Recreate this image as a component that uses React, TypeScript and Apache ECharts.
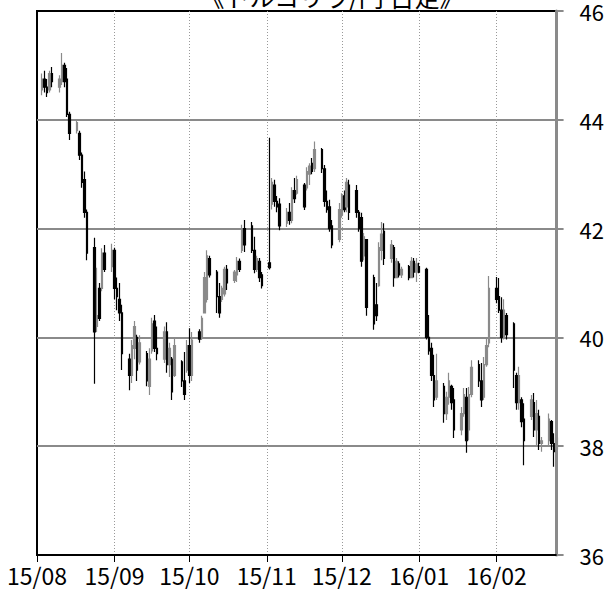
import React, { useEffect, useRef } from "react";
import * as echarts from "echarts";

// [open, close, low, high] per weekday
const AUG: number[][] = [
  [44.55, 44.75, 44.45, 44.85], [44.75, 44.6, 44.5, 44.9], [44.6, 44.5, 44.42, 44.75], [44.55, 44.85, 44.5, 44.9], [44.85, 44.7, 44.6, 44.97],
  [44.6, 44.75, 44.5, 44.82], [44.7, 45.0, 44.64, 45.23], [45.0, 44.7, 44.6, 45.05], [44.75, 44.1, 44.05, 44.95], [44.1, 43.75, 43.63, 44.15],
  [43.8, 43.95, 43.75, 44.0], [43.75, 43.35, 43.26, 43.8], [43.35, 42.85, 42.75, 43.4], [42.9, 42.3, 42.2, 43.05], [42.3, 41.55, 41.42, 42.35],
  [41.65, 40.1, 39.15, 41.83], [40.2, 40.4, 40.1, 41.28], [40.9, 40.35, 40.3, 41.0], [40.9, 41.55, 40.85, 41.64], [41.55, 41.25, 41.2, 41.7],
  [41.3, 41.6, 41.2, 41.72],
];
const SEP: number[][] = [
  [41.6, 40.9, 40.7, 41.65], [40.9, 40.75, 40.5, 41.1], [40.7, 40.45, 40.3, 41.0], [40.45, 39.7, 39.4, 40.6],
  [39.6, 39.3, 39.03, 39.7], [39.3, 39.85, 39.16, 39.95], [39.8, 40.2, 39.6, 40.3], [40.0, 39.4, 39.2, 40.05], [39.55, 39.9, 39.5, 40.04],
  [39.7, 39.2, 39.1, 39.75], [39.1, 39.6, 38.94, 39.8], [39.75, 40.25, 39.7, 40.36], [40.3, 39.8, 39.73, 40.41], [39.8, 39.7, 39.58, 40.2],
  [39.6, 40.1, 39.53, 40.2], [40.1, 39.5, 39.35, 40.28], [39.5, 39.8, 39.27, 39.9], [39.6, 39.0, 38.85, 39.64], [39.3, 39.85, 39.27, 40.0],
  [39.55, 39.2, 39.09, 39.58], [39.2, 38.95, 38.85, 39.73], [39.4, 39.85, 39.35, 39.95],
];
const OCT: number[][] = [
  [39.85, 39.3, 39.16, 40.17], [39.3, 39.95, 39.2, 40.1],
  [40.1, 39.97, 39.9, 40.15], [40.0, 40.35, 39.95, 40.4], [40.45, 41.1, 40.45, 41.2], [40.7, 41.5, 40.64, 41.6], [41.45, 41.15, 41.1, 41.5],
  [41.2, 40.75, 40.45, 41.24], [40.75, 40.45, 40.36, 41.0], [40.7, 40.9, 40.65, 40.95], [40.8, 41.25, 40.75, 41.3], [41.25, 41.0, 40.87, 41.33],
  [41.05, 41.2, 41.0, 41.24], [41.15, 41.4, 41.02, 41.48], [41.4, 41.25, 41.2, 41.45], [41.6, 42.0, 41.55, 42.07], [42.0, 41.7, 41.57, 42.16],
  [42.05, 41.6, 41.55, 42.12], [41.6, 41.25, 41.18, 41.85], [41.25, 41.45, 41.2, 41.5], [41.4, 41.1, 41.02, 41.46], [41.15, 40.95, 40.9, 41.2],
];
const NOV: number[][] = [
  [41.37, 41.28, 41.25, 43.67], [42.45, 42.85, 42.35, 42.93], [42.8, 42.5, 42.4, 42.9], [42.5, 42.4, 42.3, 42.6], [42.45, 42.05, 41.97, 42.56],
  [42.1, 42.3, 42.03, 42.38], [42.3, 42.15, 42.07, 42.47], [42.15, 42.7, 42.1, 42.76], [42.7, 42.55, 42.47, 42.93], [42.65, 42.9, 42.62, 42.97],
  [42.8, 42.4, 42.34, 42.84], [42.75, 43.05, 42.7, 43.13], [43.0, 43.15, 42.8, 43.2], [43.2, 43.05, 43.0, 43.3], [43.1, 43.45, 43.04, 43.6],
  [43.45, 43.1, 43.02, 43.48], [43.1, 42.5, 42.4, 43.17], [42.5, 42.35, 42.29, 42.7], [42.4, 42.0, 41.94, 42.53], [42.05, 41.7, 41.64, 42.16],
  [41.8, 42.35, 41.75, 42.47],
];
const DEC: number[][] = [
  [42.25, 42.6, 42.2, 42.65], [42.6, 42.35, 42.3, 42.7], [42.4, 42.85, 42.3, 42.93], [42.8, 42.3, 42.16, 42.9],
  [42.7, 42.3, 42.2, 42.8], [42.3, 42.0, 41.94, 42.34], [42.2, 41.4, 41.3, 42.29], [41.5, 41.85, 41.42, 41.92], [41.8, 40.55, 40.4, 41.8],
  [41.1, 40.25, 40.14, 41.15], [40.6, 40.4, 40.3, 41.0], [40.95, 41.65, 40.93, 41.75], [41.6, 41.9, 41.42, 42.12], [41.95, 41.45, 41.33, 42.1],
  [41.45, 41.7, 41.37, 41.79], [41.65, 41.1, 40.93, 41.7], [41.1, 41.4, 41.09, 41.46], [41.35, 41.15, 41.1, 41.4], [41.15, 41.25, 41.09, 41.3],
  [41.3, 41.1, 41.05, 41.33], [41.1, 41.4, 41.09, 41.48], [41.4, 41.2, 41.1, 41.46], [41.2, 41.35, 41.02, 41.46],
];
const JAN: number[][] = [
  [41.3, 41.2, 41.18, 41.37],
  [41.25, 40.0, 39.96, 41.28], [40.0, 39.75, 39.68, 40.41], [39.8, 39.3, 39.2, 39.9], [39.3, 38.85, 38.72, 39.68], [38.9, 39.2, 38.85, 39.7],
  [39.1, 38.6, 38.43, 39.16], [38.6, 38.9, 38.48, 39.0], [38.9, 39.2, 38.76, 39.35], [39.1, 38.8, 38.67, 39.13], [38.85, 38.3, 38.15, 39.07],
  [38.3, 38.6, 38.2, 38.72], [38.6, 38.95, 38.54, 39.07], [38.9, 38.1, 37.88, 39.07], [38.3, 38.95, 38.11, 39.09], [38.95, 39.45, 38.9, 39.58],
  [39.5, 39.2, 39.09, 39.58], [39.2, 38.85, 38.72, 39.53], [38.9, 39.5, 38.85, 39.64], [39.5, 39.85, 39.46, 40.0], [39.9, 40.9, 39.82, 41.13],
];
const FEB: number[][] = [
  [40.9, 40.7, 40.63, 41.11], [40.75, 40.5, 40.45, 41.09], [40.5, 40.0, 39.9, 40.74], [40.0, 40.5, 39.96, 40.7], [40.4, 40.05, 39.96, 40.45],
  [40.25, 39.4, 39.07, 40.28], [39.3, 38.8, 38.67, 39.35], [38.8, 39.3, 38.67, 39.46], [38.85, 38.45, 38.35, 38.9], [38.5, 38.1, 37.65, 38.79],
  [38.55, 38.85, 38.48, 38.94], [38.8, 38.3, 38.17, 38.98], [38.3, 38.6, 37.99, 38.85], [38.55, 38.05, 37.93, 38.67], [38.05, 38.1, 37.9, 38.17],
  [38.1, 38.5, 38.02, 38.6], [38.45, 38.05, 37.93, 38.48], [38.05, 37.9, 37.62, 38.24], [37.95, 38.15, 37.99, 38.24],
];

const TITLE = "《トルコリラ/円 日足》";
const START = Date.UTC(2015, 7, 1);
const END = Date.UTC(2016, 1, 25);
const Y_MIN = 36;
const Y_MAX = 46;
const Y_STEP = 2;

const FONT = '"Noto Sans CJK JP", "Noto Sans", sans-serif';

function buildSeries() {
  const ohlc = [...AUG, ...SEP, ...OCT, ...NOV, ...DEC, ...JAN, ...FEB];
  const dates: string[] = [];
  const data: any[] = [];
  let k = 0;
  for (let t = START; t <= END; t += 86400000) {
    const d = new Date(t);
    const s = d.toISOString().slice(0, 10);
    dates.push(s);
    const wd = d.getUTCDay();
    if (wd === 0 || wd === 6 || k >= ohlc.length) data.push("-");
    else data.push(ohlc[k++]);
  }
  return { dates, data };
}

export default function App() {
  const ref = useRef<HTMLDivElement>(null);
  useEffect(() => {
    if (!ref.current) return;
    const chart = echarts.init(ref.current, undefined, { renderer: "svg" });
    const { dates, data } = buildSeries();
    const isMonthStart = (_i: number, v: string) => v.endsWith("-01");
    chart.setOption({
      animation: false,
      backgroundColor: "#fff",
      grid: { left: 37, top: 11, right: 44, bottom: 35, show: true, borderColor: "#000", borderWidth: 2 },
      graphic: [
        {
          type: "text",
          x: 332,
          y: -4,
          style: { text: TITLE, fontSize: 25, fontFamily: FONT, fill: "#000", align: "center", verticalAlign: "middle" },
        },
      ],
      xAxis: {
        type: "category",
        data: dates,
        boundaryGap: false,
        axisLine: { show: true, lineStyle: { color: "#000", width: 2 } },
        axisTick: { show: true, interval: isMonthStart, length: 7, lineStyle: { color: "#000", width: 1 } },
        axisLabel: {
          interval: isMonthStart,
          formatter: (v: string) => `${v.slice(2, 4)}/${v.slice(5, 7)}`,
          fontSize: 23,
          fontFamily: FONT,
          color: "#000",
          margin: 8,
        },
        splitLine: { show: true, interval: isMonthStart, showMinLine: false, lineStyle: { color: "#999", width: 1, type: [1, 2] } },
      },
      yAxis: {
        type: "value",
        position: "right",
        min: Y_MIN,
        max: Y_MAX,
        interval: Y_STEP,
        axisLine: { show: true, lineStyle: { color: "#8a8a8a", width: 3 } },
        axisTick: { show: true, length: 7, lineStyle: { color: "#8a8a8a", width: 2 } },
        axisLabel: { fontSize: 22, fontFamily: FONT, color: "#000", margin: 23 },
        splitLine: { show: true, showMinLine: false, showMaxLine: false, lineStyle: { color: "#8a8a8a", width: 2 } },
      },
      series: [
        {
          type: "candlestick",
          data,
          barWidth: 2,
          itemStyle: { color: "#8a8a8a", color0: "#000", borderColor: "#8a8a8a", borderColor0: "#000", borderWidth: 1.2 },
        },
      ],
    });
    return () => chart.dispose();
  }, []);
  return <div ref={ref} style={{ position: "absolute", left: 0, top: 0, width: 607, height: 590 }} />;
}
